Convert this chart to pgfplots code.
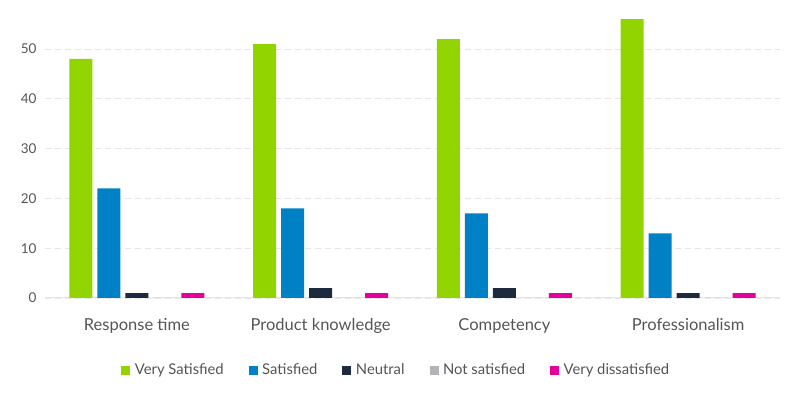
\documentclass[border=0pt]{standalone}
\usepackage{fontspec}
\setmainfont{Lato}
\usepackage{pgfplots}
\pgfplotsset{compat=1.18}
\definecolor{cgreen}{RGB}{146,212,0}
\definecolor{cblue}{RGB}{0,129,198}
\definecolor{cnavy}{RGB}{30,42,62}
\definecolor{cgrey}{RGB}{177,179,182}
\definecolor{cpink}{RGB}{230,0,154}
\definecolor{ctext}{RGB}{85,85,85}
\definecolor{cgrid}{RGB}{230,230,230}
\begin{document}
\begin{tikzpicture}
\useasboundingbox (0,0) rectangle (800bp,398bp);
\begin{axis}[
  at={(45bp,100bp)}, anchor=south west,
  scale only axis, width=735bp, height=298.8bp,
  xmin=-0.5, xmax=3.5, ymin=0, ymax=60,
  ytick={0,10,20,30,40,50},
  xtick={0,1,2,3},
  xticklabels={Response time, Product knowledge, Competency, Professionalism},
  ybar=5bp, bar width=23bp,
  axis x line=bottom, axis y line=left,
  x axis line style={-, draw=cgrid, line width=1bp},
  y axis line style={draw=none},
  major tick length=0pt,
  ymajorgrids, grid style={cgrid, dash pattern=on 6bp off 4bp, line width=0.8bp},
  /pgf/number format/assume math mode=true,
  yticklabel style={font=\fontsize{13.5bp}{16bp}\selectfont, text=ctext, xshift=-5bp},
  xticklabel style={font=\fontsize{16.5bp}{19bp}\selectfont, text=ctext, yshift=-17bp},
  legend style={at={(axis description cs:0.478,-0.241)}, anchor=center, draw=none,
    font=\fontsize{14.8bp}{17bp}\selectfont, text=ctext,
    /tikz/every even column/.append style={column sep=23bp}},
  legend columns=5,
  legend image code/.code={\path[#1] (0bp,-4.5bp) rectangle (9bp,4.5bp); \path (11.5bp,0bp);},
  legend cell align=left,
]
\addplot[fill=cgreen, draw=none] coordinates {(0,48) (1,51) (2,52) (3,56)};
\addplot[fill=cblue, draw=none] coordinates {(0,22) (1,18) (2,17) (3,13)};
\addplot[fill=cnavy, draw=none] coordinates {(0,1) (1,2) (2,2) (3,1)};
\addplot[fill=cgrey, draw=none] coordinates {(0,0) (1,0) (2,0) (3,0)};
\addplot[fill=cpink, draw=none] coordinates {(0,1) (1,1) (2,1) (3,1)};
\legend{Very Satisfied, Satisfied, Neutral, Not satisfied, Very dissatisfied}
\end{axis}
\end{tikzpicture}
\end{document}
